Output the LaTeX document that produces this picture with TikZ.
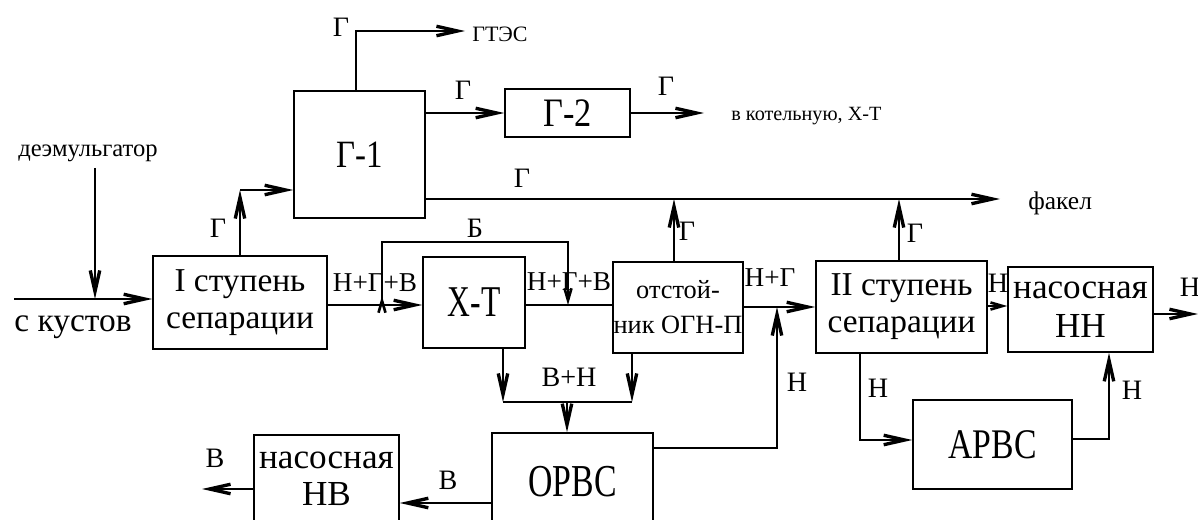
\documentclass[tikz,border=0pt]{standalone}
\usepackage{fontspec}
\usepackage{graphicx}
\setmainfont{Liberation Serif}
\usetikzlibrary{arrows.meta}
\newcommand{\sq}[2]{\scalebox{#1}[1]{#2}}
\tikzset{
  pipe/.style={line width=0.9pt},
  flow/.style={line width=0.9pt, -{Straight Barb[length=4.2mm,width=1.9mm,line width=1.9pt]}},
  sflow/.style={line width=0.9pt, -{Straight Barb[length=2.4mm,width=1.4mm,line width=1.5pt]}},
  box/.style={draw, line width=0.9pt, inner sep=0pt, align=center},
  lbl/.style={inner sep=0pt, font=\fontsize{16}{18}\selectfont},
  slbl/.style={inner sep=0pt, font=\fontsize{15.5}{17}\selectfont},
}
\begin{document}
\begin{tikzpicture}[x=0.02cm,y=-0.02cm]
\useasboundingbox (0,0) rectangle (1198,520);
\clip (0,0) rectangle (1198,520);
\fill[white] (0,0) rectangle (1198,520);

% boxes
\node[box, minimum width=3.48cm, minimum height=1.86cm, font=\fontsize{19}{21}\selectfont] (sep1) at (240,302.5) {I ступень\\сепарации};
\node[box, minimum width=2.62cm, minimum height=2.54cm, font=\fontsize{22}{24}\selectfont] (g1) at (359.5,154.5) {\sq{0.85}{Г-1}};
\node[box, minimum width=2.5cm, minimum height=0.96cm, font=\fontsize{23}{25}\selectfont] (g2) at (567.5,113) {\sq{0.85}{Г-2}};
\node[box, minimum width=2.04cm, minimum height=1.82cm, font=\fontsize{25}{26}\selectfont] (xt) at (474,302.5) {\sq{0.72}{Х-Т}};
\node[box, minimum width=2.6cm, minimum height=1.82cm, font=\fontsize{15}{20}\selectfont] (ogn) at (678,307.5) {отстой-\\ник ОГН-П};
\node[box, minimum width=3.42cm, minimum height=1.84cm, font=\fontsize{19}{21}\selectfont] (sep2) at (901.5,307) {II ступень\\сепарации};
\node[box, minimum width=2.9cm, minimum height=1.7cm, font=\fontsize{20}{22}\selectfont] (nn) at (1080.5,309.5) {насосная\\НН};
\node[box, minimum width=3.18cm, minimum height=1.78cm, font=\fontsize{24}{25}\selectfont] (arvs) at (992.5,444.5) {\sq{0.8}{АРВС}};
\node[box, minimum width=3.22cm, minimum height=1.96cm, font=\fontsize{26}{27}\selectfont] (orvs) at (572.5,482) {\sq{0.74}{ОРВС}};
\node[box, minimum width=2.9cm, minimum height=1.74cm, font=\fontsize{20}{21}\selectfont] (nv) at (326.5,478.5) {насосная\\НВ};

% inlet
\coordinate (src) at (14,299);
\draw[flow] (src) -- (src -| sep1.west);
\node[lbl, font=\fontsize{19}{21}\selectfont] (kust) at (73,327) {с кустов};
\node[lbl, font=\fontsize{14}{16}\selectfont] (dem) at (88,153) {деэмульгатор};
\coordinate (d1) at (95,168);
\draw[flow] (d1) -- (d1 |- src);

% sep1 -> G-1
\coordinate (c1) at (240,190);
\draw[flow] (c1 |- sep1.north) -- (c1);
\draw[flow] (c1) -- (c1 -| g1.west);
\node[lbl] at (218,228) {Г};

% G-1 -> GTES
\coordinate (c2) at (356,31);
\coordinate (gtes) at (465,31);
\draw[flow] (c2 |- g1.north) -- (c2) -- (gtes);
\node[lbl, font=\fontsize{12.5}{14}\selectfont, anchor=west] (gtesl) at (472,34) {ГТЭС};
\node[lbl] at (341,27) {Г};

% G-1 -> G-2 -> boiler
\draw[flow] (g1.east |- g2.west) -- (g2.west);
\node[lbl] at (463,90) {Г};
\coordinate (kot) at (704,113);
\draw[flow] (g2.east) -- (kot);
\node[lbl] at (666,86) {Г};
\node[lbl, font=\fontsize{11.5}{14}\selectfont, anchor=west] (kotl) at (731,116) {в котельную, Х-Т};

% flare line
\coordinate (fak) at (1000,199);
\draw[flow] (g1.east |- fak) -- (fak);
\node[lbl, font=\fontsize{14.5}{16}\selectfont, anchor=west] (fakl) at (1028,203) {факел};
\node[lbl] at (522,178) {Г};

% sep1 -> X-T
\coordinate (m1) at (0,305);
\draw[flow] (sep1.east |- m1) -- (xt.west |- m1);
\node[slbl] at (375,283) {Н+Г+В};

% bypass
\coordinate (b1) at (382,242);
\coordinate (b2) at (568,242);
\draw[sflow] (b1 |- m1) -- (b1) -- (b2) -- (b2 |- m1);
\draw[sflow] (b1 |- m1) -- ++(0,-9);
\node[lbl] at (475,228) {Б};

% X-T -> settler
\draw[pipe] (xt.east |- m1) -- (ogn.west |- m1);
\node[slbl] at (569,282) {Н+Г+В};

% settler gas up
\coordinate (u1) at (674,0);
\draw[flow] (u1 |- ogn.north) -- (u1 |- fak);
\node[lbl] at (687,231) {Г};

% settler -> sep2
\coordinate (m2) at (0,307);
\draw[flow] (ogn.east |- m2) -- (sep2.west |- m2);
\node[slbl] at (770,278) {Н+Г};

% ORVS oil up
\coordinate (r1) at (777,448);
\draw[flow] (orvs.east |- r1) -- (r1) -- (r1 |- m2);
\node[lbl] at (797,382) {Н};

% water+oil to ORVS
\coordinate (j1) at (503,402);
\coordinate (j2) at (632,402);
\coordinate (j3) at (567,402);
\draw[flow] (j1 |- xt.south) -- (j1);
\draw[flow] (j2 |- ogn.south) -- (j2);
\draw[pipe] (j1) -- (j2);
\draw[flow] (j3) -- (j3 |- orvs.north);
\node[lbl] at (569,377) {В+Н};

% ORVS -> NV -> out
\coordinate (w1) at (0,503);
\draw[flow] (orvs.west |- w1) -- (nv.east |- w1);
\node[lbl] at (448,480) {В};
\coordinate (w2) at (202,489);
\draw[flow] (nv.west |- w2) -- (w2);
\node[lbl] at (215,458) {В};

% sep2 gas up
\coordinate (u2) at (899,0);
\draw[flow] (u2 |- sep2.north) -- (u2 |- fak);
\node[lbl] at (915,233) {Г};

% sep2 -> NN
\coordinate (m3) at (0,306);
\draw[sflow] (sep2.east |- m3) -- (nn.west |- m3);
\node[lbl] at (998,283) {Н};

% NN out
\coordinate (out) at (1198,314);
\draw[flow] (nn.east |- out) -- (out);
\node[lbl] at (1190,287) {Н};

% sep2 -> ARVS
\coordinate (p1) at (860,440);
\draw[flow] (p1 |- sep2.south) -- (p1) -- (arvs.west |- p1);
\node[lbl] at (878,388) {Н};

% ARVS -> NN
\coordinate (p2) at (1109,439);
\draw[flow] (arvs.east |- p2) -- (p2) -- (p2 |- nn.south);
\node[lbl] at (1132,390) {Н};
\end{tikzpicture}
\end{document}
